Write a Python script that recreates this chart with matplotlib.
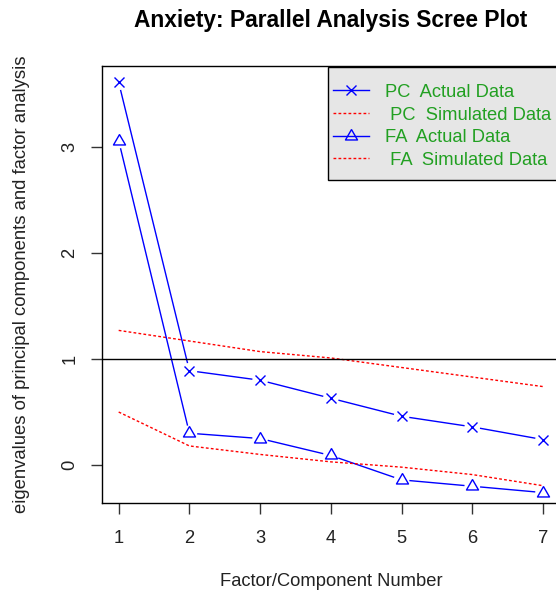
import numpy as np
import matplotlib
matplotlib.use("Agg")
import matplotlib.pyplot as plt
from matplotlib.lines import Line2D
from matplotlib.patches import Rectangle

plt.rcParams['font.family'] = ['Liberation Sans', 'DejaVu Sans']

# Eigenvalues for the scree plot
factors = [1, 2, 3, 4, 5, 6, 7]
pc_actual = [3.61, 0.89, 0.80, 0.63, 0.46, 0.36, 0.24]
pc_simulated = [1.27, 1.17, 1.07, 1.01, 0.92, 0.83, 0.74]
fa_actual = [3.06, 0.30, 0.25, 0.09, -0.14, -0.20, -0.26]
fa_simulated = [0.50, 0.18, 0.10, 0.03, -0.02, -0.09, -0.195]

legend_labels = ["PC  Actual Data", " PC  Simulated Data",
                 "FA  Actual Data", " FA  Simulated Data"]
x_ticks = [1, 2, 3, 4, 5, 6, 7]
y_ticks = [0, 1, 2, 3]

title = "Anxiety: Parallel Analysis Scree Plot"
xlabel = "Factor/Component Number"
ylabel = "eigenvalues of principal components and factor analysis"

W, H, DPI = 556, 593, 100
fig = plt.figure(figsize=(W / DPI, H / DPI), dpi=DPI)


def fx(px):
    return px / W


def fy(py):
    return 1 - py / H


# plot region (extends slightly past the right edge of the canvas)
left_px, right_px, top_px, bottom_px = 101.7, 560.0, 65.7, 503.3
ax = fig.add_axes([fx(left_px), fy(bottom_px),
                   (right_px - left_px) / W, (bottom_px - top_px) / H])
ax.set_xlim(0.76, 7.24)
ax.set_ylim(-0.361, 3.767)

blue = "#0000FF"
red = "#FF0000"
green = "#22A022"
tri = [(0, 1), (0.866, -0.5), (-0.866, -0.5), (0, 1)]
dotted = (0, (2.0, 1.6))
x_style = dict(marker="x", ms=7.2, mew=1.0, color=blue)
tri_style = dict(marker=tri, ms=10, mew=1.0, mfc="none", mec=blue)


def gapped_line(xs, ys, gap_px=8.5, **kw):
    """Connect points with segments that stop short of each marker."""
    pts = ax.transData.transform(np.column_stack([xs, ys]))
    inv = ax.transData.inverted()
    for p0, p1 in zip(pts[:-1], pts[1:]):
        d = p1 - p0
        length = np.hypot(*d)
        if length <= 2 * gap_px:
            continue
        u = d / length
        a = inv.transform(p0 + u * gap_px)
        b = inv.transform(p1 - u * gap_px)
        ax.plot([a[0], b[0]], [a[1], b[1]], **kw)


gapped_line(factors, pc_actual, color=blue, lw=1.0)
ax.plot(factors, pc_actual, ls="none", **x_style)
ax.plot(factors, pc_simulated, color=red, lw=1.0, ls=dotted)
gapped_line(factors, fa_actual, color=blue, lw=1.0)
ax.plot(factors, fa_actual, ls="none", **tri_style)
ax.plot(factors, fa_simulated, color=red, lw=1.0, ls=dotted)

ax.axhline(1, color="black", lw=1.0)

for s in ax.spines.values():
    s.set_linewidth(1.0)
    s.set_color("black")

ax.set_xticks(x_ticks)
ax.set_yticks(y_ticks)
ax.tick_params(axis="both", direction="out", length=7.9, width=1.0,
               color="#333333", labelsize=13.2, labelcolor="#222222")
ax.tick_params(axis="x", pad=11)
ax.tick_params(axis="y", pad=9)
for lab in ax.get_yticklabels():
    lab.set_rotation(90)
    lab.set_va("center")

mid_x = fx((left_px + right_px) / 2)
fig.text(mid_x, fy(582), xlabel, ha="center", va="center",
         fontsize=13.2, color="#222222")
fig.text(fx(22), fy(284.5), ylabel, ha="center", va="center",
         rotation=90, fontsize=13.3, color="#222222")
fig.text(mid_x, fy(21), title, ha="center", va="center",
         fontsize=16.4, fontweight="bold", color="black")

# legend box in the top-right corner of the plot region
box_l, box_t, box_b = 328.3, 66.7, 180.0
fig.add_artist(Rectangle((fx(box_l), fy(box_b)), fx(right_px - box_l),
                         (box_b - box_t) / H, transform=fig.transFigure,
                         facecolor="#E6E6E6", edgecolor="black", lw=1.0,
                         zorder=5))
row_y = [90.0, 113.0, 135.5, 158.0]
handle_l, handle_r, text_x = 333.0, 369.0, 385.0
handle_styles = [
    dict(color=blue, lw=1.0),
    dict(color=red, lw=1.0, ls=dotted),
    dict(color=blue, lw=1.0),
    dict(color=red, lw=1.0, ls=dotted),
]
handle_markers = [x_style, None, tri_style, None]
for yy, lab, st, mk in zip(row_y, legend_labels, handle_styles,
                           handle_markers):
    fig.add_artist(Line2D([fx(handle_l), fx(handle_r)], [fy(yy), fy(yy)],
                          transform=fig.transFigure, zorder=6, **st))
    if mk is not None:
        fig.add_artist(Line2D([fx((handle_l + handle_r) / 2)], [fy(yy)],
                              transform=fig.transFigure, zorder=7,
                              ls="none", **mk))
    fig.text(fx(text_x), fy(yy + 2.2), lab, ha="left", va="center",
             fontsize=13.2, color=green, zorder=7)

fig.savefig("out.png", dpi=DPI)
